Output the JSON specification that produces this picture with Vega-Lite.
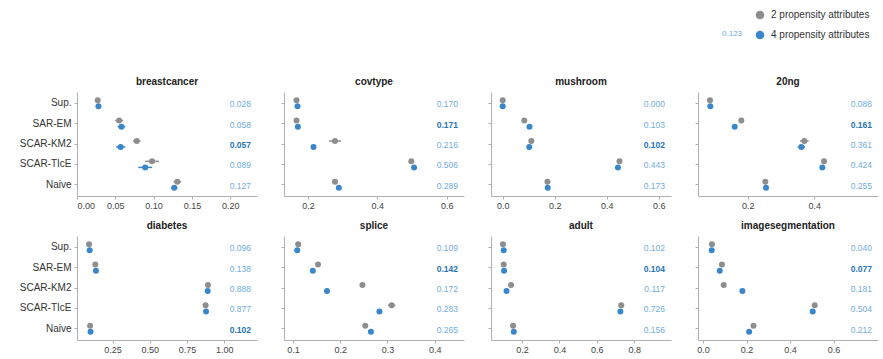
{
  "$schema": "https://vega.github.io/schema/vega-lite/v6.json",
  "autosize": {"type": "none"},
  "padding": {"left": 77, "top": 92, "right": 806, "bottom": 267},
  "columns": 4,
  "spacing": {"row": 40, "column": 27},
  "bounds": "flush",
  "data": {"values": [
    {"d": "breastcancer", "m": "Sup.", "a": "2 propensity attributes", "v": 0.027, "lo": 0.025, "hi": 0.029},
    {"d": "breastcancer", "m": "Sup.", "a": "4 propensity attributes", "v": 0.028, "lo": 0.026, "hi": 0.030},
    {"d": "breastcancer", "m": "SAR-EM", "a": "2 propensity attributes", "v": 0.055, "lo": 0.050, "hi": 0.060},
    {"d": "breastcancer", "m": "SAR-EM", "a": "4 propensity attributes", "v": 0.058, "lo": 0.053, "hi": 0.063},
    {"d": "breastcancer", "m": "SCAR-KM2", "a": "2 propensity attributes", "v": 0.078, "lo": 0.073, "hi": 0.083},
    {"d": "breastcancer", "m": "SCAR-KM2", "a": "4 propensity attributes", "v": 0.057, "lo": 0.051, "hi": 0.063},
    {"d": "breastcancer", "m": "SCAR-TIcE", "a": "2 propensity attributes", "v": 0.098, "lo": 0.089, "hi": 0.107},
    {"d": "breastcancer", "m": "SCAR-TIcE", "a": "4 propensity attributes", "v": 0.089, "lo": 0.080, "hi": 0.098},
    {"d": "breastcancer", "m": "Naive", "a": "2 propensity attributes", "v": 0.131, "lo": 0.126, "hi": 0.136},
    {"d": "breastcancer", "m": "Naive", "a": "4 propensity attributes", "v": 0.127, "lo": 0.123, "hi": 0.131},
    {"d": "covtype", "m": "Sup.", "a": "2 propensity attributes", "v": 0.167, "lo": 0.165, "hi": 0.169},
    {"d": "covtype", "m": "Sup.", "a": "4 propensity attributes", "v": 0.170, "lo": 0.168, "hi": 0.172},
    {"d": "covtype", "m": "SAR-EM", "a": "2 propensity attributes", "v": 0.167, "lo": 0.165, "hi": 0.169},
    {"d": "covtype", "m": "SAR-EM", "a": "4 propensity attributes", "v": 0.171, "lo": 0.169, "hi": 0.173},
    {"d": "covtype", "m": "SCAR-KM2", "a": "2 propensity attributes", "v": 0.278, "lo": 0.261, "hi": 0.295},
    {"d": "covtype", "m": "SCAR-KM2", "a": "4 propensity attributes", "v": 0.216, "lo": 0.213, "hi": 0.219},
    {"d": "covtype", "m": "SCAR-TIcE", "a": "2 propensity attributes", "v": 0.498, "lo": 0.495, "hi": 0.501},
    {"d": "covtype", "m": "SCAR-TIcE", "a": "4 propensity attributes", "v": 0.506, "lo": 0.503, "hi": 0.509},
    {"d": "covtype", "m": "Naive", "a": "2 propensity attributes", "v": 0.278, "lo": 0.276, "hi": 0.280},
    {"d": "covtype", "m": "Naive", "a": "4 propensity attributes", "v": 0.289, "lo": 0.287, "hi": 0.291},
    {"d": "mushroom", "m": "Sup.", "a": "2 propensity attributes", "v": 0.0, "lo": 0.0, "hi": 0.001},
    {"d": "mushroom", "m": "Sup.", "a": "4 propensity attributes", "v": 0.0, "lo": 0.0, "hi": 0.001},
    {"d": "mushroom", "m": "SAR-EM", "a": "2 propensity attributes", "v": 0.083, "lo": 0.080, "hi": 0.086},
    {"d": "mushroom", "m": "SAR-EM", "a": "4 propensity attributes", "v": 0.103, "lo": 0.100, "hi": 0.106},
    {"d": "mushroom", "m": "SCAR-KM2", "a": "2 propensity attributes", "v": 0.110, "lo": 0.107, "hi": 0.113},
    {"d": "mushroom", "m": "SCAR-KM2", "a": "4 propensity attributes", "v": 0.102, "lo": 0.099, "hi": 0.105},
    {"d": "mushroom", "m": "SCAR-TIcE", "a": "2 propensity attributes", "v": 0.449, "lo": 0.446, "hi": 0.452},
    {"d": "mushroom", "m": "SCAR-TIcE", "a": "4 propensity attributes", "v": 0.443, "lo": 0.440, "hi": 0.446},
    {"d": "mushroom", "m": "Naive", "a": "2 propensity attributes", "v": 0.172, "lo": 0.169, "hi": 0.175},
    {"d": "mushroom", "m": "Naive", "a": "4 propensity attributes", "v": 0.173, "lo": 0.170, "hi": 0.176},
    {"d": "20ng", "m": "Sup.", "a": "2 propensity attributes", "v": 0.087, "lo": 0.085, "hi": 0.089},
    {"d": "20ng", "m": "Sup.", "a": "4 propensity attributes", "v": 0.088, "lo": 0.086, "hi": 0.090},
    {"d": "20ng", "m": "SAR-EM", "a": "2 propensity attributes", "v": 0.181, "lo": 0.179, "hi": 0.183},
    {"d": "20ng", "m": "SAR-EM", "a": "4 propensity attributes", "v": 0.161, "lo": 0.159, "hi": 0.163},
    {"d": "20ng", "m": "SCAR-KM2", "a": "2 propensity attributes", "v": 0.370, "lo": 0.357, "hi": 0.383},
    {"d": "20ng", "m": "SCAR-KM2", "a": "4 propensity attributes", "v": 0.361, "lo": 0.350, "hi": 0.372},
    {"d": "20ng", "m": "SCAR-TIcE", "a": "2 propensity attributes", "v": 0.429, "lo": 0.427, "hi": 0.431},
    {"d": "20ng", "m": "SCAR-TIcE", "a": "4 propensity attributes", "v": 0.424, "lo": 0.422, "hi": 0.426},
    {"d": "20ng", "m": "Naive", "a": "2 propensity attributes", "v": 0.253, "lo": 0.251, "hi": 0.255},
    {"d": "20ng", "m": "Naive", "a": "4 propensity attributes", "v": 0.255, "lo": 0.253, "hi": 0.257},
    {"d": "diabetes", "m": "Sup.", "a": "2 propensity attributes", "v": 0.092, "lo": 0.088, "hi": 0.096},
    {"d": "diabetes", "m": "Sup.", "a": "4 propensity attributes", "v": 0.096, "lo": 0.092, "hi": 0.100},
    {"d": "diabetes", "m": "SAR-EM", "a": "2 propensity attributes", "v": 0.134, "lo": 0.130, "hi": 0.138},
    {"d": "diabetes", "m": "SAR-EM", "a": "4 propensity attributes", "v": 0.138, "lo": 0.134, "hi": 0.142},
    {"d": "diabetes", "m": "SCAR-KM2", "a": "2 propensity attributes", "v": 0.890, "lo": 0.886, "hi": 0.894},
    {"d": "diabetes", "m": "SCAR-KM2", "a": "4 propensity attributes", "v": 0.888, "lo": 0.884, "hi": 0.892},
    {"d": "diabetes", "m": "SCAR-TIcE", "a": "2 propensity attributes", "v": 0.874, "lo": 0.870, "hi": 0.878},
    {"d": "diabetes", "m": "SCAR-TIcE", "a": "4 propensity attributes", "v": 0.877, "lo": 0.873, "hi": 0.881},
    {"d": "diabetes", "m": "Naive", "a": "2 propensity attributes", "v": 0.099, "lo": 0.095, "hi": 0.103},
    {"d": "diabetes", "m": "Naive", "a": "4 propensity attributes", "v": 0.102, "lo": 0.098, "hi": 0.106},
    {"d": "splice", "m": "Sup.", "a": "2 propensity attributes", "v": 0.111, "lo": 0.109, "hi": 0.113},
    {"d": "splice", "m": "Sup.", "a": "4 propensity attributes", "v": 0.109, "lo": 0.107, "hi": 0.111},
    {"d": "splice", "m": "SAR-EM", "a": "2 propensity attributes", "v": 0.153, "lo": 0.151, "hi": 0.155},
    {"d": "splice", "m": "SAR-EM", "a": "4 propensity attributes", "v": 0.142, "lo": 0.140, "hi": 0.144},
    {"d": "splice", "m": "SCAR-KM2", "a": "2 propensity attributes", "v": 0.247, "lo": 0.243, "hi": 0.251},
    {"d": "splice", "m": "SCAR-KM2", "a": "4 propensity attributes", "v": 0.172, "lo": 0.170, "hi": 0.174},
    {"d": "splice", "m": "SCAR-TIcE", "a": "2 propensity attributes", "v": 0.309, "lo": 0.301, "hi": 0.317},
    {"d": "splice", "m": "SCAR-TIcE", "a": "4 propensity attributes", "v": 0.283, "lo": 0.279, "hi": 0.287},
    {"d": "splice", "m": "Naive", "a": "2 propensity attributes", "v": 0.253, "lo": 0.251, "hi": 0.255},
    {"d": "splice", "m": "Naive", "a": "4 propensity attributes", "v": 0.265, "lo": 0.263, "hi": 0.267},
    {"d": "adult", "m": "Sup.", "a": "2 propensity attributes", "v": 0.098, "lo": 0.095, "hi": 0.101},
    {"d": "adult", "m": "Sup.", "a": "4 propensity attributes", "v": 0.102, "lo": 0.099, "hi": 0.105},
    {"d": "adult", "m": "SAR-EM", "a": "2 propensity attributes", "v": 0.102, "lo": 0.099, "hi": 0.105},
    {"d": "adult", "m": "SAR-EM", "a": "4 propensity attributes", "v": 0.104, "lo": 0.101, "hi": 0.107},
    {"d": "adult", "m": "SCAR-KM2", "a": "2 propensity attributes", "v": 0.141, "lo": 0.138, "hi": 0.144},
    {"d": "adult", "m": "SCAR-KM2", "a": "4 propensity attributes", "v": 0.117, "lo": 0.114, "hi": 0.120},
    {"d": "adult", "m": "SCAR-TIcE", "a": "2 propensity attributes", "v": 0.731, "lo": 0.728, "hi": 0.734},
    {"d": "adult", "m": "SCAR-TIcE", "a": "4 propensity attributes", "v": 0.726, "lo": 0.723, "hi": 0.729},
    {"d": "adult", "m": "Naive", "a": "2 propensity attributes", "v": 0.152, "lo": 0.149, "hi": 0.155},
    {"d": "adult", "m": "Naive", "a": "4 propensity attributes", "v": 0.156, "lo": 0.153, "hi": 0.159},
    {"d": "imagesegmentation", "m": "Sup.", "a": "2 propensity attributes", "v": 0.041, "lo": 0.039, "hi": 0.043},
    {"d": "imagesegmentation", "m": "Sup.", "a": "4 propensity attributes", "v": 0.040, "lo": 0.038, "hi": 0.042},
    {"d": "imagesegmentation", "m": "SAR-EM", "a": "2 propensity attributes", "v": 0.087, "lo": 0.085, "hi": 0.089},
    {"d": "imagesegmentation", "m": "SAR-EM", "a": "4 propensity attributes", "v": 0.077, "lo": 0.075, "hi": 0.079},
    {"d": "imagesegmentation", "m": "SCAR-KM2", "a": "2 propensity attributes", "v": 0.095, "lo": 0.093, "hi": 0.097},
    {"d": "imagesegmentation", "m": "SCAR-KM2", "a": "4 propensity attributes", "v": 0.181, "lo": 0.175, "hi": 0.187},
    {"d": "imagesegmentation", "m": "SCAR-TIcE", "a": "2 propensity attributes", "v": 0.513, "lo": 0.511, "hi": 0.515},
    {"d": "imagesegmentation", "m": "SCAR-TIcE", "a": "4 propensity attributes", "v": 0.504, "lo": 0.502, "hi": 0.506},
    {"d": "imagesegmentation", "m": "Naive", "a": "2 propensity attributes", "v": 0.232, "lo": 0.230, "hi": 0.234},
    {"d": "imagesegmentation", "m": "Naive", "a": "4 propensity attributes", "v": 0.212, "lo": 0.210, "hi": 0.214}
  ]},
  "concat": [
    {
      "title": "breastcancer", "width": 180, "height": 104,
      "transform": [{"filter": "datum.d == 'breastcancer'"}],
      "encoding": {"y": {"field": "m", "type": "nominal", "title": null, "sort": ["Sup.", "SAR-EM", "SCAR-KM2", "SCAR-TIcE", "Naive"], "scale": {"type": "band", "paddingInner": 0, "paddingOuter": 0.05}, "axis": {"labels": true}}},
      "layer": [
        {"mark": {"type": "rule", "strokeWidth": 1.5}, "encoding": {"x": {"field": "lo", "type": "quantitative", "title": null}, "x2": {"field": "hi"}, "yOffset": {"field": "a", "type": "nominal", "scale": {"paddingInner": 0, "paddingOuter": 0.683}}, "color": {"field": "a", "type": "nominal", "title": ["0.123", ""], "scale": {"domain": ["2 propensity attributes", "4 propensity attributes"], "range": ["#8e8e8e", "#3987c8"]}}}},
        {"mark": {"type": "circle", "size": 36, "opacity": 1}, "encoding": {"x": {"field": "v", "type": "quantitative", "title": null, "scale": {"domain": [0, 0.235], "nice": false, "zero": false}, "axis": {"values": [0, 0.05, 0.1, 0.15, 0.2], "format": ".2f"}}, "yOffset": {"field": "a", "type": "nominal", "scale": {"paddingInner": 0, "paddingOuter": 0.683}}, "color": {"field": "a", "type": "nominal", "title": ["0.123", ""], "scale": {"domain": ["2 propensity attributes", "4 propensity attributes"], "range": ["#8e8e8e", "#3987c8"]}}}},
        {"transform": [{"filter": "datum.a == '4 propensity attributes'"}, {"calculate": "datum.m == 'Sup.' ? 9 : datum.v", "as": "cmp"}, {"joinaggregate": [{"op": "min", "field": "cmp", "as": "best"}]}, {"filter": "datum.v != datum.best"}], "mark": {"type": "text", "align": "right", "baseline": "middle", "fontSize": 8.5, "color": "#6fade0", "dy": 1}, "encoding": {"x": {"value": 174}, "text": {"field": "v", "type": "quantitative", "format": ".3f"}}},
        {"transform": [{"filter": "datum.a == '4 propensity attributes'"}, {"calculate": "datum.m == 'Sup.' ? 9 : datum.v", "as": "cmp"}, {"joinaggregate": [{"op": "min", "field": "cmp", "as": "best"}]}, {"filter": "datum.v == datum.best"}], "mark": {"type": "text", "align": "right", "baseline": "middle", "fontSize": 8.5, "fontWeight": "bold", "color": "#2874b5", "dy": 1}, "encoding": {"x": {"value": 174}, "text": {"field": "v", "type": "quantitative", "format": ".3f"}}}
      ]
    },
    {
      "title": "covtype", "width": 180, "height": 104,
      "transform": [{"filter": "datum.d == 'covtype'"}],
      "encoding": {"y": {"field": "m", "type": "nominal", "title": null, "sort": ["Sup.", "SAR-EM", "SCAR-KM2", "SCAR-TIcE", "Naive"], "scale": {"type": "band", "paddingInner": 0, "paddingOuter": 0.05}, "axis": {"labels": false}}},
      "layer": [
        {"mark": {"type": "rule", "strokeWidth": 1.5}, "encoding": {"x": {"field": "lo", "type": "quantitative", "title": null}, "x2": {"field": "hi"}, "yOffset": {"field": "a", "type": "nominal", "scale": {"paddingInner": 0, "paddingOuter": 0.683}}, "color": {"field": "a", "type": "nominal", "title": ["0.123", ""], "scale": {"domain": ["2 propensity attributes", "4 propensity attributes"], "range": ["#8e8e8e", "#3987c8"]}}}},
        {"mark": {"type": "circle", "size": 36, "opacity": 1}, "encoding": {"x": {"field": "v", "type": "quantitative", "title": null, "scale": {"domain": [0.131, 0.65], "nice": false, "zero": false}, "axis": {"values": [0.2, 0.4, 0.6], "format": ".1f"}}, "yOffset": {"field": "a", "type": "nominal", "scale": {"paddingInner": 0, "paddingOuter": 0.683}}, "color": {"field": "a", "type": "nominal", "title": ["0.123", ""], "scale": {"domain": ["2 propensity attributes", "4 propensity attributes"], "range": ["#8e8e8e", "#3987c8"]}}}},
        {"transform": [{"filter": "datum.a == '4 propensity attributes'"}, {"calculate": "datum.m == 'Sup.' ? 9 : datum.v", "as": "cmp"}, {"joinaggregate": [{"op": "min", "field": "cmp", "as": "best"}]}, {"filter": "datum.v != datum.best"}], "mark": {"type": "text", "align": "right", "baseline": "middle", "fontSize": 8.5, "color": "#6fade0", "dy": 1}, "encoding": {"x": {"value": 174}, "text": {"field": "v", "type": "quantitative", "format": ".3f"}}},
        {"transform": [{"filter": "datum.a == '4 propensity attributes'"}, {"calculate": "datum.m == 'Sup.' ? 9 : datum.v", "as": "cmp"}, {"joinaggregate": [{"op": "min", "field": "cmp", "as": "best"}]}, {"filter": "datum.v == datum.best"}], "mark": {"type": "text", "align": "right", "baseline": "middle", "fontSize": 8.5, "fontWeight": "bold", "color": "#2874b5", "dy": 1}, "encoding": {"x": {"value": 174}, "text": {"field": "v", "type": "quantitative", "format": ".3f"}}}
      ]
    },
    {
      "title": "mushroom", "width": 180, "height": 104,
      "transform": [{"filter": "datum.d == 'mushroom'"}],
      "encoding": {"y": {"field": "m", "type": "nominal", "title": null, "sort": ["Sup.", "SAR-EM", "SCAR-KM2", "SCAR-TIcE", "Naive"], "scale": {"type": "band", "paddingInner": 0, "paddingOuter": 0.05}, "axis": {"labels": false}}},
      "layer": [
        {"mark": {"type": "rule", "strokeWidth": 1.5}, "encoding": {"x": {"field": "lo", "type": "quantitative", "title": null}, "x2": {"field": "hi"}, "yOffset": {"field": "a", "type": "nominal", "scale": {"paddingInner": 0, "paddingOuter": 0.683}}, "color": {"field": "a", "type": "nominal", "title": ["0.123", ""], "scale": {"domain": ["2 propensity attributes", "4 propensity attributes"], "range": ["#8e8e8e", "#3987c8"]}}}},
        {"mark": {"type": "circle", "size": 36, "opacity": 1}, "encoding": {"x": {"field": "v", "type": "quantitative", "title": null, "scale": {"domain": [-0.045, 0.647], "nice": false, "zero": false}, "axis": {"values": [0, 0.2, 0.4, 0.6], "format": ".1f"}}, "yOffset": {"field": "a", "type": "nominal", "scale": {"paddingInner": 0, "paddingOuter": 0.683}}, "color": {"field": "a", "type": "nominal", "title": ["0.123", ""], "scale": {"domain": ["2 propensity attributes", "4 propensity attributes"], "range": ["#8e8e8e", "#3987c8"]}}}},
        {"transform": [{"filter": "datum.a == '4 propensity attributes'"}, {"calculate": "datum.m == 'Sup.' ? 9 : datum.v", "as": "cmp"}, {"joinaggregate": [{"op": "min", "field": "cmp", "as": "best"}]}, {"filter": "datum.v != datum.best"}], "mark": {"type": "text", "align": "right", "baseline": "middle", "fontSize": 8.5, "color": "#6fade0", "dy": 1}, "encoding": {"x": {"value": 174}, "text": {"field": "v", "type": "quantitative", "format": ".3f"}}},
        {"transform": [{"filter": "datum.a == '4 propensity attributes'"}, {"calculate": "datum.m == 'Sup.' ? 9 : datum.v", "as": "cmp"}, {"joinaggregate": [{"op": "min", "field": "cmp", "as": "best"}]}, {"filter": "datum.v == datum.best"}], "mark": {"type": "text", "align": "right", "baseline": "middle", "fontSize": 8.5, "fontWeight": "bold", "color": "#2874b5", "dy": 1}, "encoding": {"x": {"value": 174}, "text": {"field": "v", "type": "quantitative", "format": ".3f"}}}
      ]
    },
    {
      "title": "20ng", "width": 180, "height": 104,
      "transform": [{"filter": "datum.d == '20ng'"}],
      "encoding": {"y": {"field": "m", "type": "nominal", "title": null, "sort": ["Sup.", "SAR-EM", "SCAR-KM2", "SCAR-TIcE", "Naive"], "scale": {"type": "band", "paddingInner": 0, "paddingOuter": 0.05}, "axis": {"labels": false}}},
      "layer": [
        {"mark": {"type": "rule", "strokeWidth": 1.5}, "encoding": {"x": {"field": "lo", "type": "quantitative", "title": null}, "x2": {"field": "hi"}, "yOffset": {"field": "a", "type": "nominal", "scale": {"paddingInner": 0, "paddingOuter": 0.683}}, "color": {"field": "a", "type": "nominal", "title": ["0.123", ""], "scale": {"domain": ["2 propensity attributes", "4 propensity attributes"], "range": ["#8e8e8e", "#3987c8"]}}}},
        {"mark": {"type": "circle", "size": 36, "opacity": 1}, "encoding": {"x": {"field": "v", "type": "quantitative", "title": null, "scale": {"domain": [0.051, 0.591], "nice": false, "zero": false}, "axis": {"values": [0.2, 0.4], "format": ".1f"}}, "yOffset": {"field": "a", "type": "nominal", "scale": {"paddingInner": 0, "paddingOuter": 0.683}}, "color": {"field": "a", "type": "nominal", "title": ["0.123", ""], "scale": {"domain": ["2 propensity attributes", "4 propensity attributes"], "range": ["#8e8e8e", "#3987c8"]}}}},
        {"transform": [{"filter": "datum.a == '4 propensity attributes'"}, {"calculate": "datum.m == 'Sup.' ? 9 : datum.v", "as": "cmp"}, {"joinaggregate": [{"op": "min", "field": "cmp", "as": "best"}]}, {"filter": "datum.v != datum.best"}], "mark": {"type": "text", "align": "right", "baseline": "middle", "fontSize": 8.5, "color": "#6fade0", "dy": 1}, "encoding": {"x": {"value": 174}, "text": {"field": "v", "type": "quantitative", "format": ".3f"}}},
        {"transform": [{"filter": "datum.a == '4 propensity attributes'"}, {"calculate": "datum.m == 'Sup.' ? 9 : datum.v", "as": "cmp"}, {"joinaggregate": [{"op": "min", "field": "cmp", "as": "best"}]}, {"filter": "datum.v == datum.best"}], "mark": {"type": "text", "align": "right", "baseline": "middle", "fontSize": 8.5, "fontWeight": "bold", "color": "#2874b5", "dy": 1}, "encoding": {"x": {"value": 174}, "text": {"field": "v", "type": "quantitative", "format": ".3f"}}}
      ]
    },
    {
      "title": "diabetes", "width": 180, "height": 104,
      "transform": [{"filter": "datum.d == 'diabetes'"}],
      "encoding": {"y": {"field": "m", "type": "nominal", "title": null, "sort": ["Sup.", "SAR-EM", "SCAR-KM2", "SCAR-TIcE", "Naive"], "scale": {"type": "band", "paddingInner": 0, "paddingOuter": 0.05}, "axis": {"labels": true}}},
      "layer": [
        {"mark": {"type": "rule", "strokeWidth": 1.5}, "encoding": {"x": {"field": "lo", "type": "quantitative", "title": null}, "x2": {"field": "hi"}, "yOffset": {"field": "a", "type": "nominal", "scale": {"paddingInner": 0, "paddingOuter": 0.683}}, "color": {"field": "a", "type": "nominal", "title": ["0.123", ""], "scale": {"domain": ["2 propensity attributes", "4 propensity attributes"], "range": ["#8e8e8e", "#3987c8"]}}}},
        {"mark": {"type": "circle", "size": 36, "opacity": 1}, "encoding": {"x": {"field": "v", "type": "quantitative", "title": null, "scale": {"domain": [0.011, 1.219], "nice": false, "zero": false}, "axis": {"values": [0.25, 0.5, 0.75, 1.0], "format": ".2f"}}, "yOffset": {"field": "a", "type": "nominal", "scale": {"paddingInner": 0, "paddingOuter": 0.683}}, "color": {"field": "a", "type": "nominal", "title": ["0.123", ""], "scale": {"domain": ["2 propensity attributes", "4 propensity attributes"], "range": ["#8e8e8e", "#3987c8"]}}}},
        {"transform": [{"filter": "datum.a == '4 propensity attributes'"}, {"calculate": "datum.m == 'Sup.' ? 9 : datum.v", "as": "cmp"}, {"joinaggregate": [{"op": "min", "field": "cmp", "as": "best"}]}, {"filter": "datum.v != datum.best"}], "mark": {"type": "text", "align": "right", "baseline": "middle", "fontSize": 8.5, "color": "#6fade0", "dy": 1}, "encoding": {"x": {"value": 174}, "text": {"field": "v", "type": "quantitative", "format": ".3f"}}},
        {"transform": [{"filter": "datum.a == '4 propensity attributes'"}, {"calculate": "datum.m == 'Sup.' ? 9 : datum.v", "as": "cmp"}, {"joinaggregate": [{"op": "min", "field": "cmp", "as": "best"}]}, {"filter": "datum.v == datum.best"}], "mark": {"type": "text", "align": "right", "baseline": "middle", "fontSize": 8.5, "fontWeight": "bold", "color": "#2874b5", "dy": 1}, "encoding": {"x": {"value": 174}, "text": {"field": "v", "type": "quantitative", "format": ".3f"}}}
      ]
    },
    {
      "title": "splice", "width": 180, "height": 104,
      "transform": [{"filter": "datum.d == 'splice'"}],
      "encoding": {"y": {"field": "m", "type": "nominal", "title": null, "sort": ["Sup.", "SAR-EM", "SCAR-KM2", "SCAR-TIcE", "Naive"], "scale": {"type": "band", "paddingInner": 0, "paddingOuter": 0.05}, "axis": {"labels": false}}},
      "layer": [
        {"mark": {"type": "rule", "strokeWidth": 1.5}, "encoding": {"x": {"field": "lo", "type": "quantitative", "title": null}, "x2": {"field": "hi"}, "yOffset": {"field": "a", "type": "nominal", "scale": {"paddingInner": 0, "paddingOuter": 0.683}}, "color": {"field": "a", "type": "nominal", "title": ["0.123", ""], "scale": {"domain": ["2 propensity attributes", "4 propensity attributes"], "range": ["#8e8e8e", "#3987c8"]}}}},
        {"mark": {"type": "circle", "size": 36, "opacity": 1}, "encoding": {"x": {"field": "v", "type": "quantitative", "title": null, "scale": {"domain": [0.081, 0.462], "nice": false, "zero": false}, "axis": {"values": [0.1, 0.2, 0.3, 0.4], "format": ".1f"}}, "yOffset": {"field": "a", "type": "nominal", "scale": {"paddingInner": 0, "paddingOuter": 0.683}}, "color": {"field": "a", "type": "nominal", "title": ["0.123", ""], "scale": {"domain": ["2 propensity attributes", "4 propensity attributes"], "range": ["#8e8e8e", "#3987c8"]}}}},
        {"transform": [{"filter": "datum.a == '4 propensity attributes'"}, {"calculate": "datum.m == 'Sup.' ? 9 : datum.v", "as": "cmp"}, {"joinaggregate": [{"op": "min", "field": "cmp", "as": "best"}]}, {"filter": "datum.v != datum.best"}], "mark": {"type": "text", "align": "right", "baseline": "middle", "fontSize": 8.5, "color": "#6fade0", "dy": 1}, "encoding": {"x": {"value": 174}, "text": {"field": "v", "type": "quantitative", "format": ".3f"}}},
        {"transform": [{"filter": "datum.a == '4 propensity attributes'"}, {"calculate": "datum.m == 'Sup.' ? 9 : datum.v", "as": "cmp"}, {"joinaggregate": [{"op": "min", "field": "cmp", "as": "best"}]}, {"filter": "datum.v == datum.best"}], "mark": {"type": "text", "align": "right", "baseline": "middle", "fontSize": 8.5, "fontWeight": "bold", "color": "#2874b5", "dy": 1}, "encoding": {"x": {"value": 174}, "text": {"field": "v", "type": "quantitative", "format": ".3f"}}}
      ]
    },
    {
      "title": "adult", "width": 180, "height": 104,
      "transform": [{"filter": "datum.d == 'adult'"}],
      "encoding": {"y": {"field": "m", "type": "nominal", "title": null, "sort": ["Sup.", "SAR-EM", "SCAR-KM2", "SCAR-TIcE", "Naive"], "scale": {"type": "band", "paddingInner": 0, "paddingOuter": 0.05}, "axis": {"labels": false}}},
      "layer": [
        {"mark": {"type": "rule", "strokeWidth": 1.5}, "encoding": {"x": {"field": "lo", "type": "quantitative", "title": null}, "x2": {"field": "hi"}, "yOffset": {"field": "a", "type": "nominal", "scale": {"paddingInner": 0, "paddingOuter": 0.683}}, "color": {"field": "a", "type": "nominal", "title": ["0.123", ""], "scale": {"domain": ["2 propensity attributes", "4 propensity attributes"], "range": ["#8e8e8e", "#3987c8"]}}}},
        {"mark": {"type": "circle", "size": 36, "opacity": 1}, "encoding": {"x": {"field": "v", "type": "quantitative", "title": null, "scale": {"domain": [0.034, 0.997], "nice": false, "zero": false}, "axis": {"values": [0.2, 0.4, 0.6, 0.8], "format": ".1f"}}, "yOffset": {"field": "a", "type": "nominal", "scale": {"paddingInner": 0, "paddingOuter": 0.683}}, "color": {"field": "a", "type": "nominal", "title": ["0.123", ""], "scale": {"domain": ["2 propensity attributes", "4 propensity attributes"], "range": ["#8e8e8e", "#3987c8"]}}}},
        {"transform": [{"filter": "datum.a == '4 propensity attributes'"}, {"calculate": "datum.m == 'Sup.' ? 9 : datum.v", "as": "cmp"}, {"joinaggregate": [{"op": "min", "field": "cmp", "as": "best"}]}, {"filter": "datum.v != datum.best"}], "mark": {"type": "text", "align": "right", "baseline": "middle", "fontSize": 8.5, "color": "#6fade0", "dy": 1}, "encoding": {"x": {"value": 174}, "text": {"field": "v", "type": "quantitative", "format": ".3f"}}},
        {"transform": [{"filter": "datum.a == '4 propensity attributes'"}, {"calculate": "datum.m == 'Sup.' ? 9 : datum.v", "as": "cmp"}, {"joinaggregate": [{"op": "min", "field": "cmp", "as": "best"}]}, {"filter": "datum.v == datum.best"}], "mark": {"type": "text", "align": "right", "baseline": "middle", "fontSize": 8.5, "fontWeight": "bold", "color": "#2874b5", "dy": 1}, "encoding": {"x": {"value": 174}, "text": {"field": "v", "type": "quantitative", "format": ".3f"}}}
      ]
    },
    {
      "title": "imagesegmentation", "width": 180, "height": 104,
      "transform": [{"filter": "datum.d == 'imagesegmentation'"}],
      "encoding": {"y": {"field": "m", "type": "nominal", "title": null, "sort": ["Sup.", "SAR-EM", "SCAR-KM2", "SCAR-TIcE", "Naive"], "scale": {"type": "band", "paddingInner": 0, "paddingOuter": 0.05}, "axis": {"labels": false}}},
      "layer": [
        {"mark": {"type": "rule", "strokeWidth": 1.5}, "encoding": {"x": {"field": "lo", "type": "quantitative", "title": null}, "x2": {"field": "hi"}, "yOffset": {"field": "a", "type": "nominal", "scale": {"paddingInner": 0, "paddingOuter": 0.683}}, "color": {"field": "a", "type": "nominal", "title": ["0.123", ""], "scale": {"domain": ["2 propensity attributes", "4 propensity attributes"], "range": ["#8e8e8e", "#3987c8"]}}}},
        {"mark": {"type": "circle", "size": 36, "opacity": 1}, "encoding": {"x": {"field": "v", "type": "quantitative", "title": null, "scale": {"domain": [-0.023, 0.804], "nice": false, "zero": false}, "axis": {"values": [0, 0.2, 0.4, 0.6], "format": ".1f"}}, "yOffset": {"field": "a", "type": "nominal", "scale": {"paddingInner": 0, "paddingOuter": 0.683}}, "color": {"field": "a", "type": "nominal", "title": ["0.123", ""], "scale": {"domain": ["2 propensity attributes", "4 propensity attributes"], "range": ["#8e8e8e", "#3987c8"]}}}},
        {"transform": [{"filter": "datum.a == '4 propensity attributes'"}, {"calculate": "datum.m == 'Sup.' ? 9 : datum.v", "as": "cmp"}, {"joinaggregate": [{"op": "min", "field": "cmp", "as": "best"}]}, {"filter": "datum.v != datum.best"}], "mark": {"type": "text", "align": "right", "baseline": "middle", "fontSize": 8.5, "color": "#6fade0", "dy": 1}, "encoding": {"x": {"value": 174}, "text": {"field": "v", "type": "quantitative", "format": ".3f"}}},
        {"transform": [{"filter": "datum.a == '4 propensity attributes'"}, {"calculate": "datum.m == 'Sup.' ? 9 : datum.v", "as": "cmp"}, {"joinaggregate": [{"op": "min", "field": "cmp", "as": "best"}]}, {"filter": "datum.v == datum.best"}], "mark": {"type": "text", "align": "right", "baseline": "middle", "fontSize": 8.5, "fontWeight": "bold", "color": "#2874b5", "dy": 1}, "encoding": {"x": {"value": 174}, "text": {"field": "v", "type": "quantitative", "format": ".3f"}}}
      ]
    }
  ],
  "config": {
    "font": "Liberation Sans",
    "view": {"stroke": null},
    "title": {"fontSize": 10, "fontWeight": "bold", "color": "#222", "offset": 5, "anchor": "middle"},
    "axis": {"grid": false, "domainColor": "#b0b0b0", "tickColor": "#b0b0b0", "tickSize": 3, "labelColor": "#444", "labelFontSize": 9, "labelPadding": 2},
    "axisY": {"labelFontSize": 10, "labelColor": "#333", "labelPadding": 3, "tickSize": 3},
    "legend": {"orient": "none", "legendX": 645, "legendY": -82, "direction": "vertical", "titleOrient": "left", "titleAnchor": "end", "titleBaseline": "bottom", "titleLineHeight": 4, "titleFontSize": 8, "titleFontWeight": "normal", "titleColor": "#6fade0", "titlePadding": 12, "labelFontSize": 10, "labelColor": "#333", "symbolType": "circle", "symbolSize": 50, "symbolOpacity": 1, "rowPadding": 6, "labelOffset": 6}
  }
}
